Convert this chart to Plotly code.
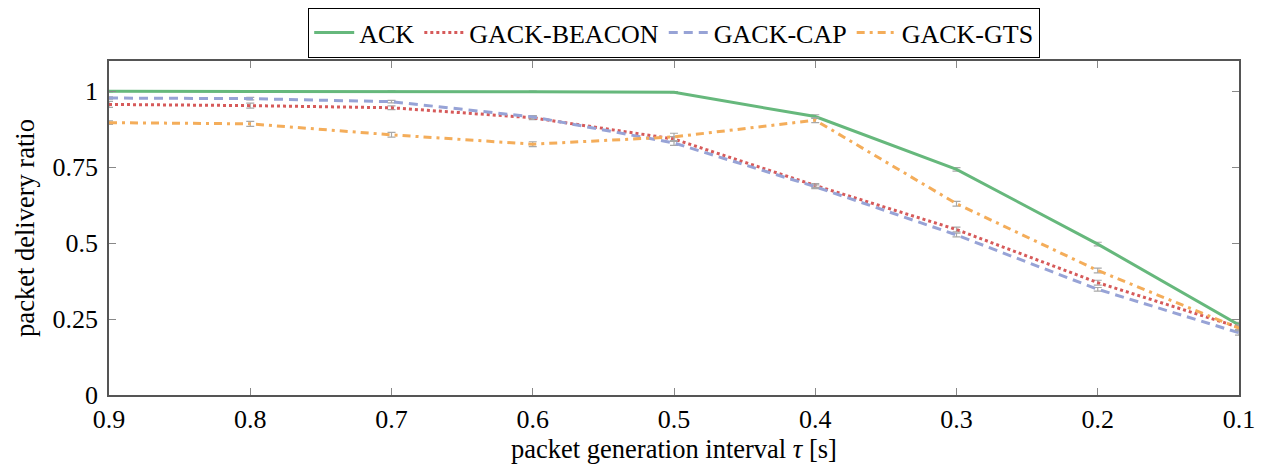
import plotly.graph_objects as go

x_vals = [0.9, 0.8, 0.7, 0.6, 0.5, 0.4, 0.3, 0.2, 0.1]
ack = [1.0, 1.0, 1.0, 0.999, 0.997, 0.917, 0.743, 0.497, 0.231]
beacon = [0.957, 0.953, 0.946, 0.913, 0.843, 0.690, 0.545, 0.370, 0.223]
cap = [0.978, 0.976, 0.966, 0.916, 0.830, 0.686, 0.527, 0.348, 0.205]
gts = [0.897, 0.893, 0.857, 0.826, 0.850, 0.905, 0.630, 0.410, 0.220]
err_ack = [0.002, 0.002, 0.002, 0.002, 0.002, 0.006, 0.006, 0.006, 0.008]
err_beacon = [0.010, 0.008, 0.006, 0.006, 0.008, 0.006, 0.008, 0.008, 0.008]
err_cap = [0.004, 0.004, 0.004, 0.004, 0.008, 0.006, 0.006, 0.006, 0.008]
err_gts = [0.006, 0.008, 0.008, 0.008, 0.012, 0.008, 0.008, 0.008, 0.008]
names = ["ACK", "GACK-BEACON", "GACK-CAP", "GACK-GTS"]
colors = ["#66b87c", "#d65a5a", "#97a3d6", "#f4ad5a"]
dashes = ["solid", "dot", "9px,6px", "8px,5px,3px,5px"]
x_ticks = [0.9, 0.8, 0.7, 0.6, 0.5, 0.4, 0.3, 0.2, 0.1]
y_ticks = [0, 0.25, 0.5, 0.75, 1]
y_tick_text = ["0", "0.25", "0.5", "0.75", "1"]

fig = go.Figure()
for name, ys, errs, col, dash in zip(names, [ack, beacon, cap, gts],
                                      [err_ack, err_beacon, err_cap, err_gts],
                                      colors, dashes):
    fig.add_trace(go.Scatter(
        x=x_vals, y=ys, mode="lines", name=name,
        line=dict(color=col, width=3, dash=dash),
        error_y=dict(type="data", array=errs, visible=True,
                     color="#a8a8a8", thickness=1.2, width=4),
    ))

serif = "Times New Roman"
fig.update_layout(
    width=1263, height=459,
    margin=dict(l=101, r=32, t=53, b=72, autoexpand=False),
    paper_bgcolor="white", plot_bgcolor="white",
    font=dict(family=serif, size=24, color="black"),
    showlegend=True,
    legend=dict(orientation="h", x=0.5, xanchor="center", y=1.0, yref="container",
                yanchor="top", bordercolor="black", borderwidth=1.2,
                font=dict(family=serif, size=26, color="black"), itemwidth=40,
                tracegroupgap=0),
    xaxis=dict(range=[0.9, 0.1], tickvals=x_ticks,
               ticktext=[str(v) for v in x_ticks], automargin=False,
               ticks="inside", ticklen=7, tickcolor="#888888", mirror="allticks",
               showline=True, linecolor="#555555", linewidth=1.5,
               showgrid=False, zeroline=False,
               title=dict(text="packet generation interval <i>τ</i> [s]",
                          font=dict(size=26.5, family=serif), standoff=4),
               tickfont=dict(size=26, family=serif, color="black")),
    yaxis=dict(range=[0, 1.1], tickvals=y_ticks, ticktext=y_tick_text,
               ticks="inside", ticklen=7, tickcolor="#888888", mirror="allticks",
               showline=True, linecolor="#555555", linewidth=1.5,
               showgrid=False, zeroline=False, automargin=False,
               ticklabelstandoff=4,
               title=dict(text="packet delivery ratio", font=dict(size=26.5, family=serif), standoff=10),
               tickfont=dict(size=26, family=serif, color="black")),
)
fig.write_html("out.html")
